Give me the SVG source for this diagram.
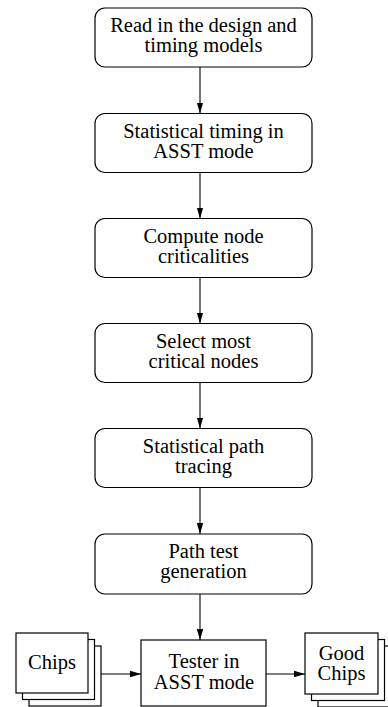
<svg xmlns="http://www.w3.org/2000/svg" width="388" height="707" viewBox="0 0 388 707">
<style>
.b{fill:#fff;stroke:#000;stroke-width:1.2}
.t{font-family:"Liberation Serif","Times New Roman",serif;font-size:20.5px;text-anchor:middle;fill:#000}
.c{stroke:#000;stroke-width:1.1;fill:none}
</style>
<defs>
<marker id="ah" viewBox="0 0 11 8" refX="11" refY="4" markerWidth="11" markerHeight="8" markerUnits="userSpaceOnUse" orient="auto">
<path d="M0,0.8 L11,4 L0,7.2 Z" fill="#000"/>
</marker>
</defs>
<g id="connectors">
<line class="c" x1="200" y1="67" x2="200" y2="113.5" marker-end="url(#ah)"/>
<line class="c" x1="200" y1="172.5" x2="200" y2="218.5" marker-end="url(#ah)"/>
<line class="c" x1="200" y1="277.5" x2="200" y2="323.5" marker-end="url(#ah)"/>
<line class="c" x1="200" y1="382.5" x2="200" y2="428.5" marker-end="url(#ah)"/>
<line class="c" x1="200" y1="487.5" x2="200" y2="534" marker-end="url(#ah)"/>
<line class="c" x1="200" y1="594" x2="200" y2="640" marker-end="url(#ah)"/>
<line class="c" x1="101" y1="674" x2="141" y2="674" marker-end="url(#ah)"/>
<line class="c" x1="266" y1="674" x2="305" y2="674" marker-end="url(#ah)"/>
</g>
<g id="n1">
<rect class="b" x="95" y="8" width="217" height="59" rx="10"/>
<text class="t" x="203.5" y="32">Read in the design and</text>
<text class="t" x="203.5" y="52">timing models</text>
</g>
<g id="n2">
<rect class="b" x="95" y="113.5" width="217" height="59" rx="10"/>
<text class="t" x="203.5" y="137.5">Statistical timing in</text>
<text class="t" x="203.5" y="157.5">ASST mode</text>
</g>
<g id="n3">
<rect class="b" x="95" y="218.5" width="217" height="59" rx="10"/>
<text class="t" x="203.5" y="242.5">Compute node</text>
<text class="t" x="203.5" y="262.5">criticalities</text>
</g>
<g id="n4">
<rect class="b" x="95" y="323.5" width="217" height="59" rx="10"/>
<text class="t" x="203.5" y="347.5">Select most</text>
<text class="t" x="203.5" y="367.5">critical nodes</text>
</g>
<g id="n5">
<rect class="b" x="95" y="428.5" width="217" height="59" rx="10"/>
<text class="t" x="203.5" y="452.5">Statistical path</text>
<text class="t" x="203.5" y="472.5">tracing</text>
</g>
<g id="n6">
<rect class="b" x="95" y="534" width="217" height="60" rx="10"/>
<text class="t" x="203.5" y="558">Path test</text>
<text class="t" x="203.5" y="578">generation</text>
</g>
<g id="chips">
<rect class="b" x="29" y="646" width="72" height="60"/>
<rect class="b" x="22.5" y="639.5" width="72" height="60"/>
<rect class="b" x="16" y="633" width="72" height="60"/>
<text class="t" x="52" y="669">Chips</text>
</g>
<g id="tester">
<rect class="b" x="141" y="640" width="125" height="66"/>
<text class="t" x="204" y="668">Tester in</text>
<text class="t" x="204" y="689">ASST mode</text>
</g>
<g id="good">
<rect class="b" x="318" y="646" width="73" height="61"/>
<rect class="b" x="311.5" y="639.5" width="73" height="61"/>
<rect class="b" x="305" y="633" width="73" height="61"/>
<text class="t" x="341.5" y="660">Good</text>
<text class="t" x="341.5" y="680">Chips</text>
</g>
</svg>
